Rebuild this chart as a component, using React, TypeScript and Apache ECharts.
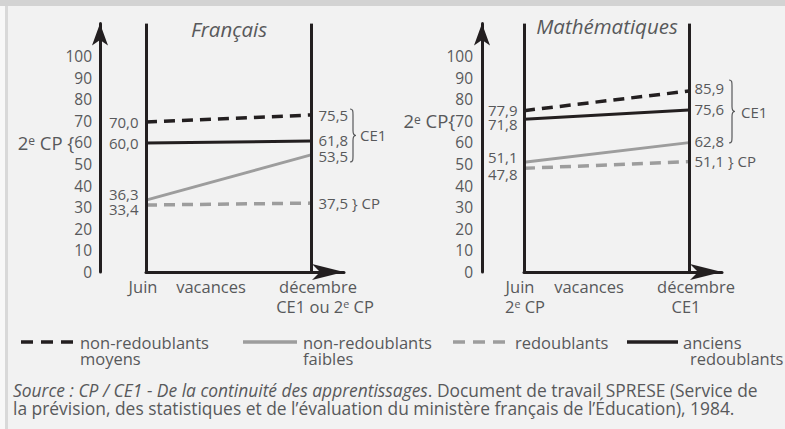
import React, { useEffect, useRef } from "react";
import * as echarts from "echarts";

const FONT = '"Open Sans", "Noto Sans", sans-serif';
const TEXT = "#58595b";
const BLACK = "#231f20";
const GRAY = "#9d9d9d";

// ---- data ----
const panelTitles = ["Français", "Mathématiques"];
const seriesNames = [
  "non-redoublants moyens",
  "non-redoublants faibles",
  "redoublants",
  "anciens redoublants",
];
// line heights as drawn (Juin -> décembre)
const frStart = [69.4, 33.3, 31.0, 59.7];
const frEnd = [72.7, 54.2, 31.9, 60.6];
const maStart = [74.7, 50.8, 48.0, 70.7];
const maEnd = [83.8, 59.9, 51.1, 75.0];
// printed values
const frStartLabels = ["70,0", "36,3", "33,4", "60,0"];
const frEndLabels = ["75,5", "53,5", "37,5", "61,8"];
const maStartLabels = ["77,9", "51,1", "47,8", "71,8"];
const maEndLabels = ["85,9", "62,8", "51,1", "75,6"];
const yMin = 0;
const yMaxLabel = 100;
const yStep = 10;
const xLabelsFr = ["Juin", "vacances", "décembre"];
const xLabelsMa = ["Juin", "vacances", "décembre"];
const sourceItalic = "Source : CP / CE1 - De la continuité des apprentissages";
const sourceRest1 = ". Document de travail SPRESE (Service de";
const sourceLine2 =
  "la prévision, des statistiques et de l’évaluation du ministère français de l’Éducation), 1984.";

// ---- layout (not data) ----
const frStartNudge = [0, -6, 4, 0];
const frEndNudge = [0, 1, 0, -1];
const maStartNudge = [-1, -5, 6, 5];
const maEndNudge = [-3, -2, -1, -1];
const lineStyles = [
  { color: BLACK, width: 3.5, type: [11, 7] },
  { color: GRAY, width: 3, type: "solid" },
  { color: GRAY, width: 3.5, type: [11, 7] },
  { color: BLACK, width: 3, type: "solid" },
];
const TXT_SIZE = 16.5;
const NUM_SIZE = 15;
const SRC_SIZE = 17.4;

function bracePath(h: number): string {
  const m = h / 2;
  return `M0,0 C3,0 3,2 3,6 L3,${m - 5} C3,${m - 1.5} 4,${m} 6,${m} C4,${m} 3,${m + 1.5} 3,${m + 5} L3,${h - 6} C3,${h - 2} 3,${h} 0,${h}`;
}
echarts.graphic.registerShape("braceFr", echarts.graphic.extendPath(bracePath(53), {}) as any);
echarts.graphic.registerShape("braceMa", echarts.graphic.extendPath(bracePath(63), {}) as any);

const Y0 = 272;
const PX = 2.16;
const YTOP = 115;
const gridTop = Y0 - YTOP * PX;
const gridH = YTOP * PX;

function measure(text: string, font: string): number {
  const c = document.createElement("canvas").getContext("2d");
  if (!c) return text.length * 7;
  c.font = font;
  return c.measureText(text).width;
}

function txt(text: string, x: number, y: number, extra: any = {}) {
  return {
    type: "text",
    x,
    y,
    silent: true,
    style: {
      text,
      fill: TEXT,
      fontSize: TXT_SIZE,
      fontFamily: FONT,
      lineHeight: 16,
      align: extra.align || "left",
      textAlign: extra.align || "left",
      verticalAlign: extra.valign || "middle",
      textVerticalAlign: extra.valign || "middle",
      ...extra.style,
    },
  };
}

function supRich(size: number) {
  return {
    p: { fontSize: size, fontFamily: FONT, color: TEXT, fill: TEXT, lineHeight: 15 },
    s: { fontSize: size * 0.65, fontFamily: FONT, color: TEXT, fill: TEXT, verticalAlign: "top", lineHeight: 12 },
    n: { fontSize: NUM_SIZE + 0.5, fontFamily: FONT, color: TEXT, fill: TEXT, lineHeight: 15 },
  };
}

function buildSeries(
  gi: number,
  starts: number[],
  ends: number[],
  sl: string[],
  el: string[],
  sn: number[],
  en: number[],
  ld: number,
  rd: number
) {
  const lab = { color: TEXT, fontSize: NUM_SIZE, fontFamily: FONT, lineHeight: 14 };
  return starts.map((s, i) => ({
    type: "line",
    name: seriesNames[i],
    xAxisIndex: gi,
    yAxisIndex: gi,
    silent: true,
    symbol: "circle",
    symbolSize: 1,
    showSymbol: true,
    itemStyle: { color: lineStyles[i].color },
    lineStyle: lineStyles[i],
    emphasis: { disabled: true },
    z: 3,
    data: [
      {
        value: [0, s],
        label: { show: true, position: "left", distance: ld, offset: [0, sn[i]], formatter: sl[i], ...lab },
      },
      {
        value: [1, ends[i]],
        label: {
          show: true,
          position: "right",
          distance: rd,
          offset: [0, en[i]],
          formatter: el[i] + (i === 2 ? " } CP" : ""),
          ...lab,
        },
      },
    ],
    markLine:
      i === 0
        ? {
            silent: true,
            symbol: ["none", "none"],
            label: { show: false },
            emphasis: { disabled: true },
            lineStyle: { color: BLACK, width: 3, type: "solid" },
            data: [{ xAxis: 0 }, { xAxis: 1 }],
          }
        : undefined,
  }));
}

function yAxis(gi: number, offset: number, margin: number, prefixAt: number, prefix: string) {
  return {
    type: "value",
    gridIndex: gi,
    min: yMin,
    max: YTOP,
    interval: yStep,
    offset,
    axisLine: {
      show: true,
      onZero: false,
      symbol: ["none", "arrow"],
      symbolSize: [12, 22],
      symbolOffset: [0, 0],
      lineStyle: { color: BLACK, width: 3 },
    },
    axisTick: { show: false },
    splitLine: { show: false },
    axisLabel: {
      margin,
      color: TEXT,
      fontSize: NUM_SIZE + 0.5,
      fontFamily: FONT,
      formatter: (v: number) => {
        if (v > yMaxLabel) return "";
        if (v === prefixAt) return prefix + "{n|" + v + "}";
        return String(v);
      },
      rich: supRich(18.5),
    },
  };
}

function xAxis(gi: number) {
  return {
    type: "value",
    gridIndex: gi,
    min: 0,
    max: 1.2,
    axisLine: {
      show: true,
      onZero: false,
      symbol: ["none", "arrow"],
      symbolSize: [12, 32],
      symbolOffset: [0, 0],
      lineStyle: { color: BLACK, width: 3 },
    },
    axisTick: { show: false },
    axisLabel: { show: false },
    splitLine: { show: false },
  };
}

function legendItem(x1: number, x2: number, y: number, st: any) {
  return {
    type: "line",
    silent: true,
    shape: { x1, y1: y, x2, y2: y },
    style: { stroke: st.color, lineWidth: 3.5, lineDash: Array.isArray(st.type) ? [12, 8] : null },
  };
}

function buildGraphic(): any[] {
  const italicW = measure(sourceItalic, `italic ${SRC_SIZE}px ${FONT}`);
  return [
    { type: "rect", silent: true, shape: { x: 0, y: 0, width: 785, height: 6 }, style: { fill: "#d3d3d3" } },
    { type: "rect", silent: true, shape: { x: 0, y: 6, width: 5, height: 423 }, style: { fill: "#f8f8f8" } },
    { type: "rect", silent: true, shape: { x: 5, y: 6, width: 3, height: 423 }, style: { fill: "#d9d9d9" } },
    txt(panelTitles[0], 229, 29, { align: "center", style: { fontStyle: "italic", fontSize: 20.5, lineHeight: 22 } }),
    txt(panelTitles[1], 607, 26, { align: "center", style: { fontStyle: "italic", fontSize: 20.5, lineHeight: 22 } }),
    // braces
    { type: "braceFr", x: 350, y: 109, silent: true, style: { stroke: TEXT, fill: null, lineWidth: 1.2 } },
    { type: "braceMa", x: 729, y: 80, silent: true, style: { stroke: TEXT, fill: null, lineWidth: 1.2 } },
    txt("CE1", 360, 135, { style: { fontSize: 15 } }),
    txt("CE1", 741, 112, { style: { fontSize: 15 } }),
    // x labels
    txt(xLabelsFr[0], 143, 286, { align: "center" }),
    txt(xLabelsFr[1], 211, 286, { align: "center" }),
    txt(xLabelsFr[2], 318, 286, { align: "center" }),
    txt("{p|CE1 ou 2}{s|e}{p| CP}", 325, 306, { align: "center", style: { rich: supRich(TXT_SIZE) } }),
    txt(xLabelsMa[0], 520, 286, { align: "center" }),
    txt(xLabelsMa[1], 589, 286, { align: "center" }),
    txt(xLabelsMa[2], 696, 286, { align: "center" }),
    txt("{p|2}{s|e}{p| CP}", 525, 306, { align: "center", style: { rich: supRich(TXT_SIZE) } }),
    txt("CE1", 686, 306, { align: "center" }),
    // legend
    legendItem(21, 73, 342, lineStyles[0]),
    txt("non-redoublants\nmoyens", 80, 334, { valign: "top" }),
    legendItem(243, 297, 342, lineStyles[1]),
    txt("non-redoublants\nfaibles", 303, 334, { valign: "top" }),
    legendItem(453, 507, 342, lineStyles[2]),
    txt("redoublants", 515, 342),
    legendItem(627, 678, 342, lineStyles[3]),
    txt("{a|anciens}\n{b|redoublants}", 683, 334, {
      valign: "top",
      style: {
        rich: {
          a: { fontSize: TXT_SIZE, fontFamily: FONT, fill: TEXT, color: TEXT, lineHeight: 16 },
          b: { fontSize: TXT_SIZE, fontFamily: FONT, fill: TEXT, color: TEXT, lineHeight: 16, padding: [0, 0, 0, 7] },
        },
      },
    }),
    // source
    txt(sourceItalic, 13, 390, { style: { fontSize: SRC_SIZE, fontStyle: "italic", lineHeight: 17 } }),
    txt(sourceRest1, 13 + italicW, 390, { style: { fontSize: SRC_SIZE, lineHeight: 17 } }),
    txt(sourceLine2, 13, 407.5, { style: { fontSize: SRC_SIZE, lineHeight: 17 } }),
  ];
}

function buildOption(): any {
  return {
    animation: false,
    backgroundColor: "#f2f2f2",
    grid: [
      { left: 146, top: gridTop, width: 198, height: gridH },
      { left: 524, top: gridTop, width: 198, height: gridH },
    ],
    xAxis: [xAxis(0), xAxis(1)],
    yAxis: [
      yAxis(0, 46, 8, 60, "{p|2}{s|e}{p| CP \u007B}"),
      yAxis(1, 42, 9, 70, "{p|2}{s|e}{p| CP\u007B}"),
    ],
    series: [
      ...buildSeries(0, frStart, frEnd, frStartLabels, frEndLabels, frStartNudge, frEndNudge, 7, 7),
      ...buildSeries(1, maStart, maEnd, maStartLabels, maEndLabels, maStartNudge, maEndNudge, 6, 5),
    ],
    graphic: buildGraphic(),
  };
}

export default function App() {
  const ref = useRef<HTMLDivElement>(null);
  useEffect(() => {
    document.body.style.margin = "0";
    const chart = echarts.init(ref.current!, null, { renderer: "svg" });
    chart.setOption(buildOption());
    return () => chart.dispose();
  }, []);
  return <div ref={ref} style={{ width: 785, height: 429 }} />;
}
